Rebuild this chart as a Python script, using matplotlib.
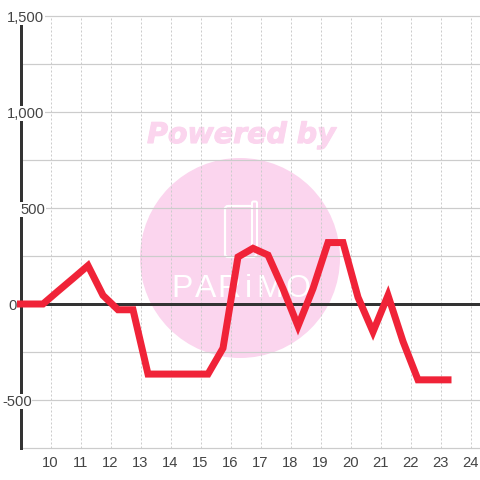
import matplotlib
matplotlib.use("Agg")
import matplotlib.pyplot as plt
from matplotlib.patches import Circle, FancyBboxPatch
from matplotlib.patheffects import withStroke
from matplotlib.transforms import IdentityTransform

# data
hours = [9.0, 9.75, 10.25, 10.75, 11.25, 11.75, 12.25, 12.75, 13.25, 13.75, 14.25,
         14.75, 15.25, 15.75, 16.25, 16.75, 17.25, 17.75, 18.25, 18.75, 19.25,
         19.75, 20.25, 20.75, 21.25, 21.75, 22.25, 22.75, 23.25]
values = [0, 0, 67, 133, 200, 45, -30, -30, -365, -365, -365,
          -365, -365, -230, 245, 290, 255, 80, -115, 80, 320,
          320, 35, -145, 45, -195, -395, -395, -395]
x_ticks = list(range(10, 25))
y_grid = [-750, -500, -250, 0, 250, 500, 750, 1000, 1250, 1500]
y_labels = {1500: "1,500", 1000: "1,000", 500: "500", 0: "0", -500: "-500"}
# left edge of each y label, in pixels from the figure edge
y_label_left = {1500: 7, 1000: 7, 500: 20, 0: 8, -500: 2}

GRID = "#cccccc"
DARK = "#333333"
RED = "#f02338"
PINK = "#fbd5ee"
TEXT = "#444444"
PX = 0.72  # points per pixel at dpi 100

plt.rcParams["font.family"] = ["Liberation Sans", "DejaVu Sans"]

fig = plt.figure(figsize=(4.8, 4.8), dpi=100)
ax = fig.add_axes([20.5 / 480, 32 / 480, (480 - 20.5) / 480, 432 / 480])
ax.set_xlim(9, 10 + (480 - 50.5) / 30)
ax.set_ylim(-750, 1500)
ax.set_facecolor("white")

# watermark under the grid, in pixels
wm = IdentityTransform()
ax.add_artist(Circle((240, 480 - 258), 100, transform=wm, facecolor=PINK, edgecolor="none", zorder=0.1))
ax.text(241.5, 480 - 135, "Powered by", transform=wm, ha="center", va="center",
        family="DejaVu Sans", fontweight="bold", fontstyle="oblique",
        fontsize=20.5, color=PINK, zorder=0.1,
        path_effects=[withStroke(linewidth=0.8, foreground=PINK)])
ax.add_artist(FancyBboxPatch((228, 480 - 254), 25, 45, boxstyle="round,pad=3", transform=wm,
                             facecolor="none", edgecolor="white", linewidth=2.2 * PX, zorder=0.2))
ax.add_artist(FancyBboxPatch((253.5, 480 - 250), 2, 47, boxstyle="round,pad=1.5", transform=wm,
                             facecolor=PINK, edgecolor="white", linewidth=2 * PX, zorder=0.25))
for letter, lx in zip("PARiMO", [182, 206, 229, 248, 270, 298]):
    ax.text(lx, 480 - 289, letter, transform=wm, ha="center", va="center", fontsize=23,
            color="white", zorder=0.2)

# grid
ax.set_axisbelow(True)
ax.set_xticks(x_ticks)
ax.set_yticks(y_grid)
ax.tick_params(axis="both", length=0)
ax.tick_params(axis="y", labelleft=False)
ax.tick_params(axis="x", labelsize=10.6, labelcolor=TEXT, pad=5.5)
ax.grid(axis="y", color=GRID, linewidth=1.2 * PX)
ax.grid(axis="x", color=GRID, linewidth=1 * PX, linestyle=(0, (2, 2)))
for gl in ax.get_ygridlines() + ax.get_xgridlines():
    gl.set_clip_on(False)

for side in ["top", "right", "bottom"]:
    ax.spines[side].set_visible(False)
ax.spines["left"].set_color(DARK)
ax.spines["left"].set_linewidth(3 * PX)

ax.axhline(0, color=DARK, linewidth=3 * PX, zorder=3)
ax.plot(hours, values, color=RED, linewidth=7 * PX, solid_capstyle="projecting",
        solid_joinstyle="miter", clip_on=False, zorder=4)

# y labels sit on white boxes that break the axis and the grid lines
for v, label in y_labels.items():
    ax.annotate(label, xy=(0, v), xycoords=ax.get_yaxis_transform(),
                xytext=((y_label_left[v] - 20.5) * PX, 0), textcoords="offset points",
                ha="left", va="center_baseline", fontsize=10.6, color=TEXT, zorder=3.5,
                annotation_clip=False,
                bbox=dict(facecolor="white", edgecolor="none", pad=0.5))

fig.savefig("out.png", dpi=100)
